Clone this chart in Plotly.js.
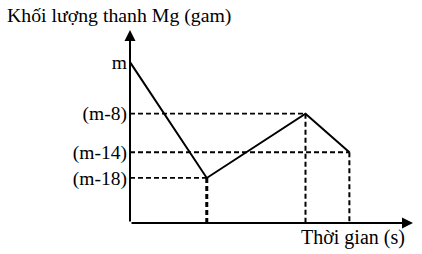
<!DOCTYPE html>
<html><head><meta charset="utf-8">
<script src="https://cdn.plot.ly/plotly-3.0.1.min.js"></script>
<style>html,body{margin:0;padding:0;background:#fff}#c{width:422px;height:254px}</style>
</head><body><div id="c"></div>
<script>
// Data (time in arbitrary units, mass relative to m)
const times = [0, 3.5, 8, 10];
const massValues = [0, -18, -8, -14];
const levelVals = [0, -8, -14, -18];
const levelText = ['m', '(m-8)', '(m-14)', '(m-18)'];
const titleText = 'Khối lượng thanh Mg (gam)';
const xTitleText = 'Thời gian (s)';

const yMin = -25, yMax = 5, xMin = 0, xMax = 12.9;
const font = 'Liberation Serif, Times New Roman, serif';

const traces = [];
// dashed guides
for (let i = 1; i < times.length; i++) {
  traces.push({x: [xMin, times[i]], y: [massValues[i], massValues[i]], mode: 'lines',
    line: {color: '#000', width: 1.8, dash: '5px,3px'}, hoverinfo: 'skip'});
  traces.push({x: [times[i], times[i]], y: [massValues[i], yMin], mode: 'lines',
    line: {color: '#000', width: i === 1 ? 3 : 2, dash: '5px,3px'}, hoverinfo: 'skip'});
}
traces.push({x: times, y: massValues, mode: 'lines', line: {color: '#000', width: 2}, hoverinfo: 'skip'});

const layout = {
  width: 422, height: 254,
  margin: {l: 130, r: 9, t: 30, b: 31},
  paper_bgcolor: '#fff', plot_bgcolor: '#fff',
  showlegend: false,
  font: {family: font, size: 19, color: '#000'},
  xaxis: {range: [xMin, xMax], showgrid: false, zeroline: false, showline: false,
    showticklabels: false, ticks: ''},
  yaxis: {range: [yMin, yMax], showgrid: false, zeroline: false, showline: false,
    tickvals: levelVals, ticktext: levelText, ticks: '', ticklabelstandoff: 2,
    tickfont: {family: font, size: 19.5, color: '#000'}},
  annotations: [
    {x: xMax, y: yMin, ax: xMin, ay: yMin, xref: 'x', yref: 'y', axref: 'x', ayref: 'y',
      text: '', showarrow: true, arrowhead: 2, arrowsize: 1.1, arrowwidth: 2, arrowcolor: '#000'},
    {x: xMin, y: yMax, ax: xMin, ay: yMin, xref: 'x', yref: 'y', axref: 'x', ayref: 'y',
      text: '', showarrow: true, arrowhead: 2, arrowsize: 1.1, arrowwidth: 2, arrowcolor: '#000'},
    {x: -0.4417, y: 1.0777, xref: 'paper', yref: 'paper', xanchor: 'left', yanchor: 'middle',
      text: titleText, showarrow: false, font: {family: font, size: 19.8, color: '#000'}},
    {x: 0.9788, y: -0.0777, xref: 'paper', yref: 'paper', xanchor: 'right', yanchor: 'middle',
      text: xTitleText, showarrow: false, font: {family: font, size: 20, color: '#000'}}
  ]
};
Plotly.newPlot('c', traces, layout, {staticPlot: true, displayModeBar: false});
</script></body></html>
